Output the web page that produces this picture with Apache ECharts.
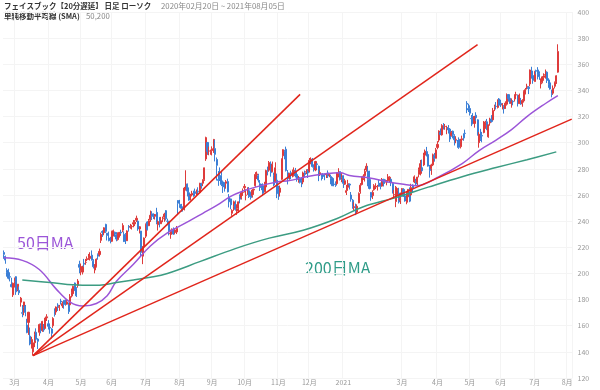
<!DOCTYPE html>
<html><head><meta charset="utf-8">
<script src="https://cdn.jsdelivr.net/npm/echarts@6/dist/echarts.min.js"></script>
<style>html,body{margin:0;padding:0;background:#fff}#c{width:600px;height:390px}</style>
</head><body><div id="c"></div>
<script>
// ---- categories: trading days (US market) ----
const firstDay = '2020-02-20';
const lastDay = '2021-08-05';
const holidays = ['2020-04-10','2020-05-25','2020-07-03','2020-09-07','2020-11-26','2020-12-25',
  '2021-01-01','2021-01-18','2021-02-15','2021-04-02','2021-05-31','2021-07-05'];
const hiddenMonthLabels = ['2021-02'];
function buildDates() {
  const out = [];
  const d = new Date(firstDay + 'T00:00:00Z');
  const end = new Date(lastDay + 'T00:00:00Z');
  while (d <= end) {
    const s = d.toISOString().slice(0, 10);
    const wd = d.getUTCDay();
    if (wd !== 0 && wd !== 6 && holidays.indexOf(s) < 0) out.push(s);
    d.setUTCDate(d.getUTCDate() + 1);
  }
  return out;
}
const dates = buildDates();

// ---- daily candles [open, close, low, high] ----
const ohlc = [
[216.0,214.6,211.2,217.6],[213.0,210.2,207.4,213.6],[202.0,200.7,197.5,204.0],[202.5,196.3,195.5,203.6],[197.5,197.2,193.9,200.9],[191.5,189.8,189.4,196.7],[183.6,192.5,182.0,193.0],
[194.0,196.4,189.2,196.8],[197.5,185.9,183.6,197.9],[187.5,191.8,186.4,191.8],[187.0,185.2,183.5,190.0],[178.0,181.1,174.6,182.0],[170.0,169.5,166.5,175.8],[174.0,178.2,168.0,178.3],[175.0,170.2,167.2,175.9],[160.5,154.8,154.2,165.3],[162.5,170.3,153.0,170.6],[152.0,146.0,145.0,158.6],[147.5,149.4,142.5,151.5],[140.0,146.9,137.1,148.6],[147.0,153.1,143.6,155.5],[155.0,149.7,148.2,158.0],[149.8,148.1,142.2,150.4],[155.0,160.9,152.3,161.6],[160.0,156.2,154.2,161.8],[156.6,163.3,155.3,163.7],[159.0,156.8,155.3,161.3],[158.0,165.9,157.8,167.0],[166.0,166.8,163.6,168.8],
[161.5,159.6,157.1,164.3],[158.8,158.2,153.9,160.5],[157.5,154.2,150.3,158.1],[160.0,165.5,158.4,166.5],[171.0,168.8,167.0,173.3],[170.5,174.3,168.4,174.7],[175.8,175.2,171.3,177.2],[174.0,174.7,171.4,175.9],[178.9,178.2,176.2,180.6],[175.2,176.9,173.6,178.6],[179.0,176.2,173.0,179.6],[179.5,179.2,175.3,180.0],[176.5,178.2,176.0,180.0],[176.5,170.8,169.0,177.8],[176.0,182.3,175.6,184.2],[183.2,185.1,181.6,188.4],[184.5,190.1,182.5,190.7],[192.7,187.1,186.5,193.0],[188.7,182.9,182.0,189.5],[190.8,194.2,189.1,195.7],[206.9,204.7,200.1,209.7],
[201.6,202.3,198.6,207.6],[201.0,205.3,199.2,205.9],[207.8,207.1,205.0,211.1],[208.5,208.5,206.6,211.1],[210.5,211.3,209.5,213.0],[212.2,212.4,210.4,214.9],[211.5,213.2,209.9,216.2],[214.0,210.1,210.0,217.6],[209.4,205.1,203.8,210.9],[202.6,206.8,200.1,207.2],[205.3,210.9,204.5,211.5],[214.3,213.2,210.5,215.3],[214.4,216.9,212.9,219.0],[225.3,229.9,223.3,231.2],[232.1,231.4,227.9,233.0],[231.1,234.9,229.2,235.3],[237.5,232.2,231.0,238.0],[230.8,229.1,225.2,231.0],[227.1,225.5,224.5,232.0],[225.2,225.1,223.0,228.0],
[224.6,231.9,224.1,232.7],[230.9,232.7,228.3,233.5],[231.5,230.2,228.0,232.0],[229.6,226.3,224.6,231.6],[225.9,230.8,225.1,231.4],[229.0,231.4,227.4,231.6],[231.5,231.0,230.0,233.4],[233.1,236.7,231.5,238.4],[229.9,224.4,224.0,232.2],[229.9,228.6,222.5,230.9],[225.0,232.5,224.8,233.0],[236.0,235.5,232.0,237.0],[235.4,235.8,234.2,237.9],[235.7,235.9,233.6,237.2],[237.8,238.8,235.3,240.9],[237.9,239.2,236.2,240.8],[240.7,242.2,239.4,244.2],[240.0,234.0,232.6,240.5],[234.0,235.7,230.6,236.2],[232.4,216.1,212.9,232.6],[213.2,220.6,207.1,221.0],[220.6,227.1,218.3,227.5],
[228.5,237.6,227.1,238.2],[239.4,233.4,232.9,240.0],[236.5,240.3,236.2,241.7],[241.1,244.5,239.4,248.1],[245.6,243.6,240.8,247.6],[245.0,244.5,241.6,246.0],[243.7,245.1,241.2,245.5],[246.7,239.0,237.6,250.2],[237.3,239.7,232.8,240.5],[242.9,240.2,235.2,243.0],[238.0,240.3,237.9,243.2],[241.8,242.0,239.2,243.5],[243.0,245.4,239.5,246.4],[248.0,241.8,240.5,248.5],[240.0,239.9,236.8,241.9],[240.0,232.6,229.1,240.2],[230.2,230.7,226.5,233.5],[231.9,233.5,229.6,234.5],[234.0,230.1,229.6,235.2],[231.3,233.3,230.0,234.4],[231.7,234.5,230.1,236.3],[255.8,253.7,245.0,255.9],
[252.8,251.9,250.2,256.3],[252.2,249.8,247.2,253.2],[250.0,249.1,247.3,251.3],[249.4,265.3,248.2,266.2],[264.0,268.4,263.4,278.9],[268.3,263.0,258.9,268.8],[261.7,256.1,255.6,265.8],[259.8,259.9,255.8,260.9],[260.0,261.3,258.9,263.2],[262.3,261.2,258.6,263.3],[262.5,261.2,259.0,264.9],[261.9,262.3,259.3,264.2],[262.9,262.6,260.2,265.9],[261.8,269.0,261.4,269.3],[268.6,267.0,264.8,269.4],[269.0,271.4,266.8,272.0],[271.9,280.8,270.8,280.9],[287.6,303.9,286.1,304.6],[300.2,293.2,290.7,300.3],[293.6,293.7,290.4,297.0],[292.8,293.2,290.8,294.7],
[294.0,295.4,290.3,297.2],[297.0,302.5,292.2,302.9],[295.5,291.1,285.7,302.2],[287.2,282.7,271.1,288.7],[271.8,271.2,267.0,278.3],[273.9,273.7,270.7,281.1],[274.9,268.1,266.8,278.0],[270.0,266.6,261.6,271.1],[268.2,266.2,262.6,269.8],[269.0,270.1,264.8,271.4],[270.3,262.4,262.0,272.5],[258.3,254.8,250.5,260.7],[257.0,252.5,249.1,257.3],[246.0,248.2,244.1,249.1],[251.0,254.8,247.9,255.7],[253.1,249.0,248.0,255.9],[247.7,249.5,244.8,252.9],[250.0,254.8,246.3,255.0],[258.9,256.8,253.6,260.5],[258.0,261.8,256.5,263.0],[261.9,261.9,259.3,265.0],
[265.5,266.6,262.0,268.4],[259.8,259.9,255.9,264.3],[261.6,264.6,260.1,265.9],[263.3,258.7,257.7,266.1],[261.6,258.1,256.5,262.6],[259.6,263.8,258.0,264.5],[263.8,264.4,260.1,264.9],[267.1,275.7,266.2,277.5],[275.4,276.1,272.2,278.0],[274.8,271.4,269.6,276.2],[268.6,265.9,263.1,271.4],[267.4,265.9,263.7,268.5],[267.0,261.4,259.2,268.9],[262.5,267.6,262.1,270.1],[266.2,278.7,265.7,279.4],[279.0,278.1,275.0,281.7],[279.0,284.8,278.0,286.0],[283.8,277.1,274.0,285.7],[278.0,283.3,277.3,285.6],[275.0,267.7,266.8,277.1],[270.1,280.8,270.0,285.0],[271.3,263.1,257.6,276.4],
[264.0,261.1,256.3,267.1],[262.1,265.3,258.8,267.2],[272.0,287.4,271.6,288.0],[290.0,294.7,285.9,295.0],[294.1,293.4,287.3,294.5],[295.0,278.8,278.0,297.0],[277.0,272.4,268.1,279.1],[274.0,276.5,271.7,277.0],[276.9,275.1,272.1,278.6],[276.0,276.9,273.5,279.5],[274.7,278.9,274.1,281.1],[278.3,275.0,273.4,280.7],[275.6,271.9,270.2,276.5],[270.9,272.9,269.4,274.6],[272.6,269.7,268.8,273.7],[271.2,268.4,266.0,273.0],[270.0,276.9,268.4,277.9],[276.9,275.6,273.5,278.7],[277.6,277.8,276.0,279.7],[279.0,276.9,273.0,279.9],
[278.4,286.5,277.2,288.3],[285.2,287.5,283.5,288.8],[287.0,281.8,281.0,288.3],[280.9,279.7,277.9,283.5],[279.1,285.6,278.2,286.1],[283.8,283.4,280.3,284.3],[282.0,277.9,270.6,282.5],[275.5,277.1,274.5,278.7],[275.9,273.5,271.1,276.4],[275.6,274.2,272.3,276.7],[276.0,275.6,271.3,276.3],[275.6,275.7,273.0,276.9],[276.9,274.5,273.0,278.8],[275.5,276.4,273.6,276.7],[274.1,272.8,268.2,275.6],[272.7,267.1,266.9,273.6],[268.4,268.1,266.7,271.0],[268.9,267.4,266.2,270.4],[268.7,277.0,267.7,277.3],[276.6,276.8,273.5,280.5],[277.9,271.9,271.1,278.0],[272.0,273.2,269.8,277.1],
[274.8,268.9,265.4,275.0],[268.3,270.9,267.7,272.4],[262.0,263.3,260.0,267.7],[265.9,268.7,263.2,271.6],[268.3,267.6,264.2,268.8],[260.0,256.8,254.9,262.3],[256.0,251.1,249.5,256.9],[250.3,251.1,248.1,254.4],[251.4,245.6,244.6,253.4],[247.0,251.4,246.2,252.9],[254.0,261.1,253.7,262.0],[262.5,267.5,261.0,269.1],[268.0,272.9,267.3,274.3],[272.6,274.5,271.5,275.9],[274.8,278.0,270.3,280.1],[279.2,282.0,277.9,284.3],[278.3,272.1,266.7,281.9],[271.8,265.0,264.3,278.6],[262.0,258.3,255.6,262.2],
[259.5,262.0,256.9,263.6],[264.0,267.1,263.3,268.3],[266.5,266.6,264.5,269.0],[266.1,266.5,263.4,267.7],[268.6,268.1,266.3,271.6],[269.0,266.6,264.3,269.5],[266.8,271.6,266.3,273.0],[272.0,269.9,266.5,272.4],[271.6,270.4,268.5,272.3],[269.8,270.5,267.4,271.4],[270.9,273.9,270.1,276.0],[271.0,273.6,269.6,274.4],[272.0,269.4,266.8,272.8],[268.9,261.6,261.2,270.0],[260.0,260.3,257.3,263.9],[255.0,265.9,250.7,266.9],[263.6,264.3,260.0,265.2],[261.5,254.7,253.5,265.5],[255.9,257.6,253.1,261.9],
[260.3,264.9,258.9,265.3],[264.3,259.0,258.6,265.2],[259.3,255.4,254.9,263.0],[255.3,257.6,252.9,262.9],[258.6,264.3,254.2,264.6],[262.5,255.3,254.5,265.8],[260.1,265.7,259.4,268.6],[267.6,264.9,262.0,268.2],[270.0,273.9,269.1,275.0],[270.0,268.4,267.6,272.4],[269.5,273.7,266.8,273.9],[275.8,279.3,273.5,281.0],[276.5,284.0,275.0,286.8],[280.9,278.6,277.9,287.1],[283.0,290.1,282.1,292.3],[290.5,293.5,286.5,294.8],[293.0,290.6,289.5,296.8],[291.0,282.1,281.7,293.3],[282.0,278.7,273.3,283.0],[280.3,283.0,275.4,283.9],[283.0,290.8,282.1,291.7],[290.3,288.0,285.5,292.2],[288.1,294.5,288.0,296.0],
[296.4,298.7,295.0,301.2],[302.0,308.9,300.4,309.5],[308.0,306.3,305.8,310.9],[306.0,313.1,305.4,314.2],[314.0,313.1,310.1,315.0],[312.4,312.5,309.9,314.3],[311.0,311.5,306.5,313.0],[311.5,309.8,307.0,313.5],[310.4,302.8,300.6,311.2],[305.5,307.8,304.6,309.0],[308.8,306.2,303.3,309.3],[305.3,302.2,297.9,306.5],[302.5,302.6,299.6,305.0],[301.6,301.5,296.1,302.0],[302.6,296.5,295.3,304.1],[297.0,301.1,295.6,303.0],[302.2,303.0,298.9,305.4],[304.0,303.6,301.5,307.2],[307.2,307.1,303.9,310.0],[330.1,329.5,322.6,331.8],[326.1,325.1,323.5,329.8],
[326.2,322.6,320.8,328.6],[318.6,318.4,312.7,321.2],[320.0,315.0,314.0,322.6],[314.7,320.0,311.5,320.6],[321.0,319.1,316.7,323.3],[317.5,306.0,305.5,317.9],[300.0,306.5,296.2,308.2],[303.0,302.6,301.3,310.6],[305.5,305.1,300.3,308.3],[307.8,315.9,307.2,316.6],[313.5,315.5,310.6,316.8],[316.0,309.9,309.7,318.2],[304.5,313.6,303.8,314.0],[315.2,318.1,313.0,319.1],[318.0,316.2,315.4,321.1],[317.5,324.6,317.3,326.6],[326.8,327.8,324.2,329.1],[327.9,327.7,325.4,331.1],[327.0,332.7,326.2,333.1],[333.5,328.7,328.2,334.2],
[330.2,329.1,327.3,332.9],[328.9,329.1,325.5,330.3],[327.6,326.0,322.3,328.7],[326.3,330.3,325.8,331.7],[329.5,336.6,328.4,337.7],[336.8,333.7,331.4,336.9],[334.0,330.1,329.7,334.9],[330.2,331.3,326.8,333.9],[331.6,331.3,328.6,332.5],[333.7,336.8,331.5,336.9],[336.5,336.7,333.3,339.0],[335.9,331.1,327.7,336.9],[329.9,336.5,329.6,337.6],[332.0,329.7,329.0,334.3],[329.8,332.3,327.5,333.3],[332.0,339.0,330.7,340.1],[338.8,340.6,336.9,341.9],[343.0,343.2,340.7,345.1],[342.4,341.4,337.2,343.3],[345.0,355.6,343.1,356.0],[354.9,351.9,349.0,358.1],[351.4,347.7,345.1,352.4],
[346.8,354.4,346.8,355.0],[355.2,354.7,352.2,355.9],[355.7,352.5,348.4,357.8],[353.0,350.5,348.1,354.6],[345.0,345.6,341.5,349.2],[346.0,350.4,345.5,351.0],[350.0,351.2,347.4,353.1],[352.0,352.1,349.0,356.0],[354.0,347.6,345.7,354.6],[348.0,344.5,342.0,349.3],[345.8,341.1,340.6,348.0],[337.6,336.9,334.7,340.6],[337.9,341.7,336.8,343.8],[343.2,346.2,341.5,346.8],[346.6,351.2,345.0,351.6],[354.0,369.8,353.6,375.3]
];

// ---- moving averages [date, value] ----
const ma50 = [
['2020-02-20',212],['2020-03-09',210],['2020-03-24',203],['2020-04-08',188],['2020-04-22',178],['2020-05-04',175],
['2020-05-15',177],['2020-05-27',183],['2020-06-04',194],['2020-06-19',207],['2020-07-07',221],['2020-07-22',231],
['2020-08-11',240],['2020-08-24',246],['2020-09-04',252],['2020-09-18',259],['2020-09-30',263],['2020-10-15',267],
['2020-10-30',270],['2020-11-11',271],['2020-11-27',274],['2020-12-14',276],['2020-12-30',277],['2021-01-08',275],
['2021-01-28',273],['2021-02-16',270],['2021-03-03',268],['2021-03-12',267],['2021-04-05',274],['2021-04-26',284],
['2021-05-11',294],['2021-05-26',302],['2021-06-10',310],['2021-06-24',320],['2021-07-13',330],['2021-07-23',336]
];
const ma200 = [
['2020-03-09',195],['2020-04-02',193],['2020-05-04',191],['2020-05-19',191],['2020-06-04',193],['2020-06-19',195],
['2020-07-07',197],['2020-07-22',200],['2020-08-20',209],['2020-09-23',219],['2020-10-23',227],['2020-11-24',233],
['2020-12-28',242],['2021-01-22',251],['2021-02-23',258],['2021-03-24',266],['2021-04-26',274],['2021-05-26',281],
['2021-06-24',287],['2021-07-22',293]
];

// ---- trend lines [startDate, startValue, endDate, endValue] ----
const trendLines = [
['2020-03-18',137.1,'2020-11-20',337],
['2020-03-18',137.1,'2021-05-10',375],
['2020-03-18',137.1,'2021-08-05',318]
];

const yMin = 120, yMax = 400, yStep = 20;

const FONT = '"Noto Sans CJK JP","Noto Sans",sans-serif';
const chart = echarts.init(document.getElementById('c'), null, {renderer: 'canvas'});

function showLabel(idx) {
  const d = dates[idx];
  if (idx === 0) return false;
  const prev = dates[idx - 1];
  if (d.slice(0, 7) === prev.slice(0, 7)) return false;
  return hiddenMonthLabels.indexOf(d.slice(0, 7)) < 0;
}

const series = [{
  type: 'candlestick',
  data: ohlc,
  barWidth: 1.6,
  z: 2,
  itemStyle: {color: '#de3b3b', color0: '#3b7fd6', borderColor: '#de3b3b', borderColor0: '#3b7fd6', borderWidth: 1}
}, {
  type: 'line', data: ma50, smooth: 0.4, symbol: 'none', z: 3,
  lineStyle: {color: '#9b55d8', width: 1.5}
}, {
  type: 'line', data: ma200, smooth: 0.4, symbol: 'none', z: 3,
  lineStyle: {color: '#3c9c82', width: 1.5}
}];
trendLines.forEach(t => series.push({
  type: 'line', data: [[t[0], t[1]], [t[2], t[3]]], symbol: 'none', z: 4, clip: false,
  lineStyle: {color: '#e1251b', width: 1.5}
}));

chart.setOption({
  animation: false,
  backgroundColor: '#ffffff',
  grid: {left: 3, right: 27.5, top: 12, bottom: 12, containLabel: false},
  xAxis: {
    type: 'category', data: dates, boundaryGap: true,
    axisLine: {show: false}, axisTick: {show: false},
    axisLabel: {
      interval: (i) => showLabel(i), margin: 1, fontSize: 7, color: '#999', fontFamily: FONT,
      formatter: (v) => { const m = +v.slice(5, 7); return m === 1 ? v.slice(0, 4) : m + '月'; }
    },
    splitLine: {show: true, interval: (i) => showLabel(i), lineStyle: {color: '#f4f4f4', width: 1}}
  },
  yAxis: {
    type: 'value', position: 'right', min: yMin, max: yMax, interval: yStep,
    axisLine: {show: false}, axisTick: {show: false},
    axisLabel: {fontSize: 7, color: '#999', margin: 5, fontFamily: FONT},
    splitLine: {show: true, lineStyle: {color: '#f4f4f4', width: 1}}
  },
  graphic: [
    {type: 'text', x: 4, y: 6, style: {text: 'フェイスブック【20分遅延】 日足 ローソク', fill: '#333', fontSize: 7.5, fontWeight: 'bold', fontFamily: FONT, verticalAlign: 'middle'}},
    {type: 'text', x: 161, y: 6, style: {text: '2020年02月20日 ~ 2021年08月05日', fill: '#888', fontSize: 7.8, fontFamily: FONT, verticalAlign: 'middle'}},
    {type: 'text', x: 4, y: 16, style: {text: '単純移動平均線 (SMA)', fill: '#333', fontSize: 7.5, fontWeight: 'bold', fontFamily: FONT, verticalAlign: 'middle'}},
    {type: 'text', x: 86, y: 16, style: {text: '50,200', fill: '#888', fontSize: 7.8, fontFamily: FONT, verticalAlign: 'middle'}},
    {type: 'text', x: 17, y: 243, style: {text: '50日MA', fill: '#9b55d8', fontSize: 16, fontFamily: FONT, verticalAlign: 'middle'}},
    {type: 'text', x: 305, y: 268, style: {text: '200日MA', fill: '#2f9c88', fontSize: 16, fontFamily: FONT, verticalAlign: 'middle'}}
  ],
  series: series
});
</script></body></html>
